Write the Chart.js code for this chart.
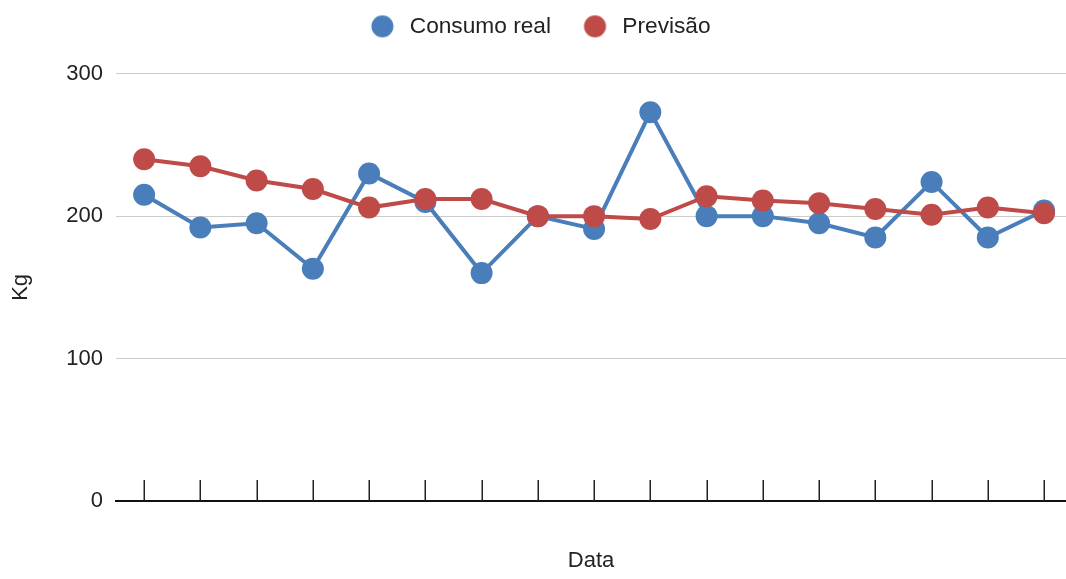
<!DOCTYPE html>
<html>
<head>
<meta charset="utf-8">
<script src="https://cdn.jsdelivr.net/npm/chart.js@4"></script>
<style>
  html, body { margin: 0; padding: 0; background: #fff; }
  #wrap { width: 1066px; height: 579px; }
</style>
</head>
<body>
<div id="wrap"><canvas id="c" width="1066" height="579"></canvas></div>
<script>
// Dates are not labelled on the axis, only marked by ticks
const dates = ['', '', '', '', '', '', '', '', '', '', '', '', '', '', '', '', ''];
const consumoReal = [215, 192, 195, 163, 230, 210, 160, 200, 191, 273, 200, 200, 195, 185, 224, 185, 204];
const previsao = [240, 235, 225, 219, 206, 212, 212, 200, 200, 198, 214, 211, 209, 205, 201, 206, 202];
const yTicks = [0, 100, 200, 300];

const BLUE = '#4a7ebb';
const RED = '#be4b48';
const FONT = 'Liberation Sans, Arial, sans-serif';

// one point per date, placed by its position in the dates list
const toPoints = values => values.map((v, i) => ({ x: i, y: v }));

// Legend swatch: a dot placed toward the right of its box so the
// spacing between entries is wider than the spacing before the text
function legendDot(color) {
  const c = document.createElement('canvas');
  c.width = 46; c.height = 24;
  const g = c.getContext('2d');
  g.fillStyle = color;
  g.beginPath();
  g.arc(30.5, 12, 11, 0, Math.PI * 2);
  g.fill();
  return c;
}
const legendDots = [legendDot(BLUE), legendDot(RED)];

const chartDecor = {
  id: 'chartDecor',
  beforeLayout(chart) {
    // leave room between the legend row and the plot
    const lg = chart.legend;
    if (lg && !lg._extraRoom) {
      const fit = lg.fit;
      lg.fit = function () { fit.call(this); this.height += 28; };
      lg._extraRoom = true;
    }
  },
  afterLayout(chart) {
    const lg = chart.legend;
    if (lg) { lg.left -= 2; lg.right -= 2; lg.top += 2; lg.bottom += 2; }
  },
  // Short vertical tick marks rising from the x axis at each date
  beforeDatasetsDraw(chart) {
    const x = chart.scales.x;
    const bottom = chart.chartArea.bottom;
    const ctx = chart.ctx;
    ctx.save();
    ctx.strokeStyle = '#222';
    ctx.lineWidth = 1.5;
    dates.forEach((d, i) => {
      const px = Math.round(x.getPixelForValue(i)) + 0.25;
      ctx.beginPath();
      ctx.moveTo(px, bottom);
      ctx.lineTo(px, bottom - 21);
      ctx.stroke();
    });
    ctx.restore();
  }
};

new Chart(document.getElementById('c'), {
  type: 'line',
  data: {
    datasets: [
      {
        label: 'Consumo real',
        data: toPoints(consumoReal),
        borderColor: BLUE,
        backgroundColor: BLUE,
        borderWidth: 4,
        pointRadius: 11,
        pointHoverRadius: 11,
        pointBorderWidth: 0,
        pointBackgroundColor: BLUE,
        order: 1
      },
      {
        label: 'Previsão',
        data: toPoints(previsao),
        borderColor: RED,
        backgroundColor: RED,
        borderWidth: 4,
        pointRadius: 11,
        pointHoverRadius: 11,
        pointBorderWidth: 0,
        pointBackgroundColor: RED,
        order: 0
      }
    ]
  },
  options: {
    responsive: false,
    animation: false,
    layout: { autoPadding: false, padding: 0 },
    plugins: {
      tooltip: { enabled: false },
      legend: {
        position: 'top',
        labels: {
          usePointStyle: true,
          pointStyleWidth: 47,
          boxHeight: 22,
          padding: 13,
          color: '#222',
          font: { family: FONT, size: 22.7 },
          sort: (a, b) => a.datasetIndex - b.datasetIndex,
          generateLabels(chart) {
            const items = Chart.defaults.plugins.legend.labels.generateLabels(chart);
            items.forEach(it => { it.pointStyle = legendDots[it.datasetIndex]; });
            return items;
          }
        }
      }
    },
    scales: {
      x: {
        type: 'linear',
        min: -0.5,
        max: dates.length - 1 + 0.39,
        afterBuildTicks(scale) { scale.ticks = dates.map((d, i) => ({ value: i, label: d })); },
        grid: { display: false, drawTicks: false },
        border: { display: true, color: '#111', width: 2 },
        ticks: { display: false },
        title: {
          display: true,
          text: 'Data',
          color: '#222',
          font: { family: FONT, size: 22 },
          padding: { top: 0, bottom: 5 }
        },
        afterFit(scale) { scale.height = 78; }
      },
      y: {
        min: 0,
        max: 300,
        afterBuildTicks(scale) { scale.ticks = yTicks.map(v => ({ value: v })); },
        grid: { color: '#cccccc', lineWidth: 1, drawTicks: false },
        border: { display: false },
        ticks: {
          color: '#222',
          padding: 13,
          font: { family: FONT, size: 22 }
        },
        title: {
          display: true,
          text: 'Kg',
          color: '#222',
          font: { family: FONT, size: 22 },
          padding: { top: 8, bottom: 7 }
        },
        afterFit(scale) { scale.width = 116; }
      }
    }
  },
  plugins: [chartDecor]
});
</script>
</body>
</html>
